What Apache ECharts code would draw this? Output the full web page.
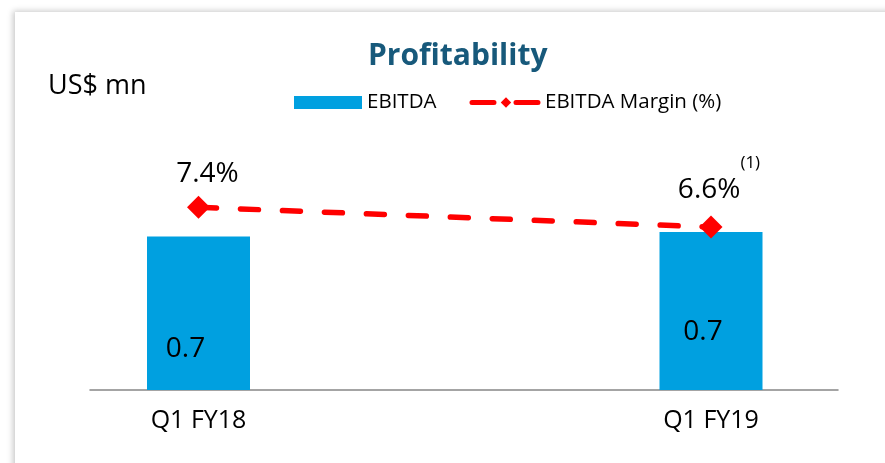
<!DOCTYPE html>
<html>
<head>
<meta charset="utf-8">
<script src="https://cdn.jsdelivr.net/npm/echarts@6/dist/echarts.min.js"></script>
<style>
html,body{margin:0;padding:0;background:#fff;width:885px;height:463px;overflow:hidden;}
#frame{position:absolute;left:15px;top:12px;width:920px;height:520px;box-shadow:-2px -1px 6px rgba(0,0,0,0.22);background:#fff;}
#chart{position:absolute;left:0;top:0;width:885px;height:463px;}
</style>
</head>
<body>
<div id="frame"></div>
<div id="chart"></div>
<script>
const categories = ['Q1 FY18', 'Q1 FY19'];
const ebitda = [0.68, 0.70];
const ebitdaMargin = [7.4, 6.6];
const marginNotes = ['', '(1)'];

const FONT = '"Open Sans", "Noto Sans", sans-serif';
const barLabelOffsets = [[-13, 36], [-8, 21]];
const lineLabelOffsets = [[9, 1], [8, -3]];

const chart = echarts.init(document.getElementById('chart'), null, {renderer: 'canvas'});

chart.setOption({
  animation: false,
  backgroundColor: 'transparent',
  textStyle: {fontFamily: FONT},
  title: [
    {text: 'Profitability', left: 363, top: 36,
     textStyle: {fontFamily: FONT, fontSize: 30, fontWeight: 'bold', color: '#17597B'}},
    {text: 'US$ mn', left: 43, top: 68,
     textStyle: {fontFamily: FONT, fontSize: 27, fontWeight: 'normal', color: '#000'}}
  ],
  legend: {
    left: 289, top: 87,
    itemWidth: 68, itemHeight: 13, itemGap: 33,
    textStyle: {fontFamily: FONT, fontSize: 20.5, color: '#000'},
    data: [
      {name: 'EBITDA', icon: 'rect'},
      {name: 'EBITDA Margin (%)',
       lineStyle: {color: '#FF0000', width: 5, type: [22, 22], cap: 'round'}}
    ]
  },
  grid: [
    {left: 198.5, right: 174, top: 74, bottom: 73},
    {left: 90, right: 47, top: 74, bottom: 73}
  ],
  xAxis: [
    {type: 'category', gridIndex: 0, data: categories, boundaryGap: false,
     axisLine: {show: false}, axisTick: {show: false},
     axisLabel: {fontFamily: FONT, fontSize: 25, color: '#000', margin: 18}},
    {type: 'value', gridIndex: 1, min: 0, max: 1,
     axisLine: {show: true, onZero: false, lineStyle: {color: '#868686', width: 1.5}},
     axisTick: {show: false}, axisLabel: {show: false}, splitLine: {show: false}}
  ],
  yAxis: [
    {type: 'value', gridIndex: 0, min: 0, max: 1.4, show: false, splitLine: {show: false}},
    {type: 'value', gridIndex: 0, min: 0, max: 12.8, show: false, splitLine: {show: false}},
    {type: 'value', gridIndex: 1, min: 0, max: 1, show: false, splitLine: {show: false}}
  ],
  series: [
    {
      name: 'EBITDA', type: 'bar', xAxisIndex: 0, yAxisIndex: 0,
      barWidth: 103, clip: false,
      itemStyle: {color: '#00A0E0'},
      data: ebitda.map((v, i) => ({
        value: v,
        label: {show: true, position: 'inside', offset: barLabelOffsets[i],
                formatter: p => p.value.toFixed(1),
                fontFamily: FONT, fontSize: 28, color: '#000'}
      }))
    },
    {
      name: 'EBITDA Margin (%)', type: 'line', xAxisIndex: 0, yAxisIndex: 1,
      clip: false, z: 5,
      symbol: 'diamond', symbolSize: 23,
      itemStyle: {color: '#FF0000'},
      lineStyle: {color: '#FF0000', width: 5.5, type: [18, 24], cap: 'round'},
      data: ebitdaMargin.map((v, i) => ({
        value: v,
        label: {show: true, position: 'top', distance: 6, offset: lineLabelOffsets[i],
                formatter: p => '{a|' + p.value.toFixed(1) + '%}' + (marginNotes[i] ? '{b|' + marginNotes[i] + '}' : ''),
                rich: {
                  a: {fontFamily: FONT, fontSize: 28, color: '#000', lineHeight: 52, verticalAlign: 'bottom', height: 34},
                  b: {fontFamily: FONT, fontSize: 17, color: '#000', lineHeight: 17, verticalAlign: 'top', padding: [0, 0, 0, 0]}
                }}
      }))
    }
  ]
});
</script>
</body>
</html>
